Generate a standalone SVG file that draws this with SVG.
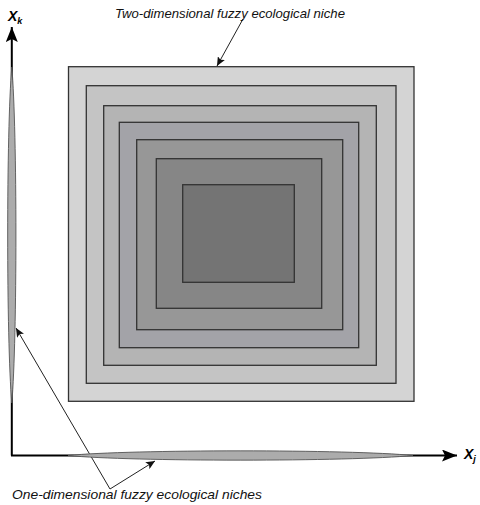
<svg xmlns="http://www.w3.org/2000/svg" width="480" height="505" viewBox="0 0 480 505">
<defs>
<marker id="big" markerWidth="16" markerHeight="12" refX="15" refY="6" orient="auto" markerUnits="userSpaceOnUse">
<path d="M0,0 L15,6 L0,12 L3,6 Z" fill="#000"/>
</marker>
<marker id="small" markerWidth="10" markerHeight="8" refX="9" refY="4" orient="auto" markerUnits="userSpaceOnUse">
<path d="M0,0 L9,4 L0,8 L2,4 Z" fill="#111"/>
</marker>
</defs>
<style>
.sq{stroke:#333;stroke-width:1.3}
.lbl{font-family:"Liberation Sans",Arial,sans-serif;font-style:italic;font-size:13px;fill:#111}
.ax{font-family:"Liberation Sans",Arial,sans-serif;font-style:italic;font-weight:bold;fill:#000}
.ptr{stroke:#222;stroke-width:1;fill:none;marker-end:url(#small)}
.niche1{fill:#acacac;stroke:#555;stroke-width:0.9}
.axis{stroke:#000;stroke-width:2;marker-end:url(#big)}
</style>
<rect width="480" height="505" fill="#fff"/>
<g id="niche2d">
<rect class="sq" x="68.5" y="66.7" width="345.5" height="334.6" fill="#d4d4d4"/>
<rect class="sq" x="86.3" y="85.7" width="309.7" height="297.6" fill="#c4c4c4"/>
<rect class="sq" x="103.7" y="105.7" width="272.6" height="259.6" fill="#b4b4b4"/>
<rect class="sq" x="119.3" y="122.3" width="239.4" height="225.4" fill="#a3a3a8"/>
<rect class="sq" x="136.7" y="139.7" width="206" height="190" fill="#979797"/>
<rect class="sq" x="156.3" y="158.7" width="165.4" height="149.6" fill="#868686"/>
<rect class="sq" x="182.7" y="184.7" width="111.6" height="97.6" fill="#747474"/>
</g>
<g id="connectors">
<line class="axis" x1="11.8" y1="455.5" x2="11.8" y2="27"/>
<line class="axis" x1="11" y1="455.5" x2="457" y2="455.5"/>
<line class="ptr" x1="243" y1="19" x2="217" y2="66"/>
<line class="ptr" x1="110" y1="489" x2="16" y2="328"/>
<line class="ptr" x1="110" y1="489" x2="155" y2="461"/>
</g>
<g id="niche1d-k">
<path class="niche1" d="M11.8,67 C17.3,130 17.3,340 11.8,403 C6.3,340 6.3,130 11.8,67 Z"/>
</g>
<g id="niche1d-j">
<path class="niche1" d="M68,455.5 C130,449.3 350,449.3 413,455.5 C350,461.7 130,461.7 68,455.5 Z"/>
</g>
<g id="axis-k">
<text class="ax" x="8" y="21" font-size="14">X<tspan font-size="9" dy="3">k</tspan></text>
</g>
<g id="axis-j">
<text class="ax" x="464" y="459" font-size="14">X<tspan font-size="9" dy="3">j</tspan></text>
</g>
<g id="label-2d">
<text class="lbl" x="115" y="18" textLength="230" lengthAdjust="spacingAndGlyphs">Two-dimensional fuzzy ecological niche</text>
</g>
<g id="label-1d">
<text class="lbl" x="12" y="499" textLength="250" lengthAdjust="spacingAndGlyphs">One-dimensional fuzzy ecological niches</text>
</g>
</svg>
